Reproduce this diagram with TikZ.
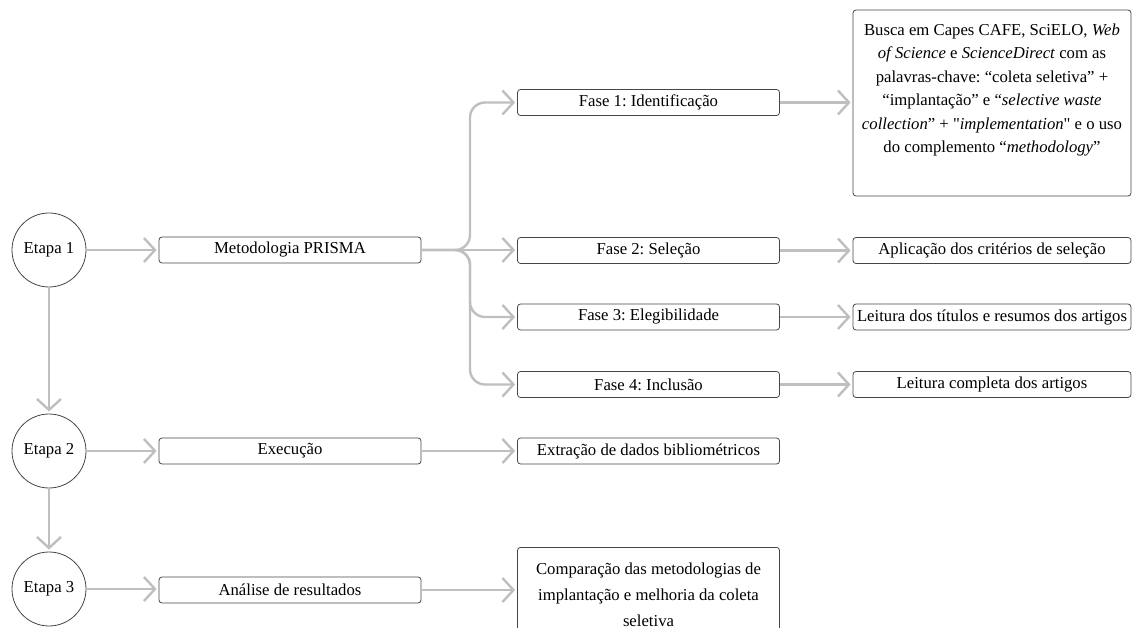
\documentclass[tikz,border=0pt]{standalone}
\usepackage{fontspec}
\setmainfont{Liberation Serif}[Ligatures=TeXOff]
\usetikzlibrary{arrows.meta}
\definecolor{lgray}{RGB}{191,191,191}
\definecolor{bord}{RGB}{70,70,70}
\frenchspacing
\begin{document}
\begin{tikzpicture}[x=1pt,y=-1pt,
  every node/.style={font=\fontsize{16.7}{20}\selectfont, text=black},
  box/.style={draw=bord, line width=0.8pt, rounded corners=3pt, minimum height=26pt, inner xsep=1pt, inner ysep=0pt, align=center},
  boxA/.style={box, minimum width=262pt},
  boxB/.style={box, minimum width=278pt},
  stage/.style={circle, draw=bord, line width=0.8pt, minimum size=74pt, inner sep=0pt},
  arr/.style={draw=lgray, line width=2.4pt, -{Straight Barb[length=11pt,width=24pt]}, shorten >=2pt},
  brarr/.style={arr, rounded corners=15pt}
]
\useasboundingbox (0,0) rectangle (1133,628);
\clip (0,0) rectangle (1133,628);

% stages
\node[stage] (e1) at (49,250) {Etapa 1};
\node[stage] (e2) at (49,451) {Etapa 2};
\node[stage] (e3) at (49,589) {Etapa 3};

% second column
\node[boxA] (prisma) at (290,250) {Metodologia PRISMA};
\node[boxA] (exec) at (290,451) {Execução};
\node[boxA] (anal) at (290,590) {Análise de resultados};

% third column
\node[boxA] (f1) at (648.5,102.5) {Fase 1: Identificação};
\node[boxA] (f2) at (648.5,250.5) {Fase 2: Seleção};
\node[boxA] (f3) at (648.5,317) {Fase 3: Elegibilidade};
\node[boxA] (f4) at (648.5,384.5) {Fase 4: Inclusão};
\node[boxA] (extr) at (648.5,451) {Extração de dados bibliométricos};
\node[boxA, anchor=north, minimum height=94pt, font=\fontsize{16.7}{26}\selectfont] (comp) at (648.5,547)
  {Comparação das metodologias de\\ implantação e melhoria da coleta\\ seletiva};

% fourth column
\node[box, inner xsep=1pt, inner ysep=3pt] (busca) at (992,103)
  {\begin{minipage}[c][180pt][t]{276pt}\centering
   \fontsize{16.7}{23.4}\selectfont
   \vspace*{11pt}
   Busca em Capes CAFE, SciELO, \textit{Web}\\
   \textit{of Science} e \textit{ScienceDirect} com as\\
   palavras-chave: “coleta seletiva” +\\
   “implantação” e “\textit{selective waste}\\
   \textit{collection}” + "\textit{implementation}" e o uso\\
   do complemento “\textit{methodology}”
   \end{minipage}};
\node[boxB] (aplic) at (992,250.5) {Aplicação dos critérios de seleção};
\node[boxB] (leit1) at (992,317) {Leitura dos títulos e resumos dos artigos};
\node[boxB] (leit2) at (992,384.5) {Leitura completa dos artigos};

% branch point
\coordinate (br) at (470,250);

% connectors
\draw[arr] (e1) -- (prisma);
\draw[arr] (e2) -- (exec);
\draw[arr] (e3) -- (e3 -| anal.west);
\draw[arr] (e1) -- (e2);
\draw[arr] (e2) -- (e3);

\draw[brarr] (prisma.east) -- (br) |- (f1.west);
\draw[arr] (prisma.east) -- (prisma.east -| f2.west);
\draw[brarr] (prisma.east) -- (br) |- (f3.west);
\draw[brarr] (prisma.east) -- (br) |- (f4.west);

\draw[arr] (exec) -- (extr);
\draw[arr] (anal.east) -- (anal.east -| comp.west);

\draw[arr] (f1.east) -- (f1.east -| busca.west);
\draw[arr] (f2) -- (aplic);
\draw[arr] (f3) -- (leit1);
\draw[arr] (f4) -- (leit2);
\end{tikzpicture}
\end{document}
